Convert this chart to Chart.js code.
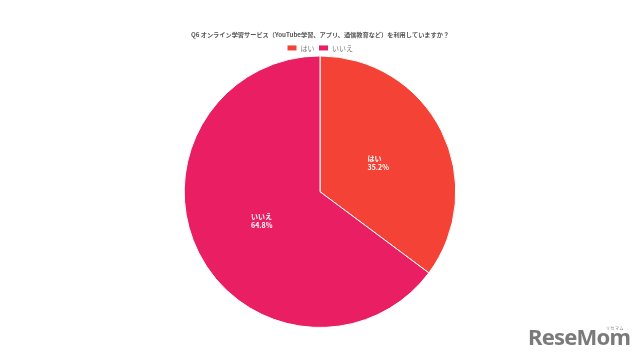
<!DOCTYPE html>
<html>
<head>
<meta charset="utf-8">
<script src="https://cdn.jsdelivr.net/npm/chart.js@4"></script>
<style>
  html, body { margin: 0; padding: 0; background: #fff; }
  #wrap { position: relative; width: 640px; height: 360px; }
  #logo { position: absolute; left: 528px; top: 325px; font-family: "Noto Sans", sans-serif; font-weight: bold; font-size: 22px; color: #7a7a7a; letter-spacing: -0.8px; line-height: 22px; }
  #logo small { position: absolute; left: 78px; top: 1px; font-size: 4px; font-family: "Noto Sans CJK JP"; font-weight: normal; letter-spacing: 0.5px; line-height: 5px; }
</style>
</head>
<body>
<div id="wrap">
  <canvas id="myPie" width="640" height="360"></canvas>
  <div id="logo"><small>リセマム</small>ReseMom</div>
</div>
<script>
const titleText = "Q6 オンライン学習サービス（YouTube学習、アプリ、通信教育など）を利用していますか？";
const labels = ["はい", "いいえ"];
const values = [35.2, 64.8];
const colors = ["#F44336", "#E91E63"];

const fontFamily = '"Noto Sans CJK JP", "Noto Sans", sans-serif';

// 凡例の高さを詰める
const tightLegend = {
  id: "tightLegend",
  beforeInit(chart) {
    const origFit = chart.legend.fit;
    chart.legend.fit = function () {
      origFit.bind(chart.legend)();
      this.height -= 6;
    };
  }
};

// 扇形の中に「ラベル + %」を描く
const sliceLabels = {
  id: "sliceLabels",
  afterDatasetsDraw(chart) {
    const ctx = chart.ctx;
    const meta = chart.getDatasetMeta(0);
    ctx.save();
    ctx.font = "bold 7px " + fontFamily;
    ctx.fillStyle = "#fff";
    ctx.textBaseline = "middle";
    ctx.textAlign = "left";
    meta.data.forEach((arc, i) => {
      const p = arc.getProps(["x", "y", "startAngle", "endAngle", "outerRadius"], true);
      const mid = (p.startAngle + p.endAngle) / 2;
      const r = p.outerRadius * 0.48;
      const cx = p.x + Math.cos(mid) * r;
      const cy = p.y + Math.sin(mid) * r;
      const lines = [labels[i], values[i].toFixed(1) + "%"];
      const w = Math.max(...lines.map(l => ctx.measureText(l).width));
      lines.forEach((l, j) => {
        ctx.fillText(l, cx - w / 2, cy + (j - 0.5) * 9);
      });
    });
    ctx.restore();
  }
};

const myPie = new Chart(document.getElementById("myPie"), {
  type: "pie",
  data: {
    labels: labels,
    datasets: [{
      data: values,
      backgroundColor: colors,
      borderColor: "#fff",
      borderWidth: 1
    }]
  },
  options: {
    responsive: false,
    animation: false,
    layout: { padding: { top: 27, bottom: 32 } },
    plugins: {
      title: {
        display: true,
        text: titleText,
        color: "#555",
        font: { family: fontFamily, size: 6.2, weight: "bold" },
        padding: { top: 4, bottom: 2 }
      },
      legend: {
        position: "top",
        labels: {
          boxWidth: 10,
          boxHeight: 6,
          padding: 4,
          color: "#777",
          font: { family: fontFamily, size: 7 }
        }
      },
      tooltip: { enabled: false }
    }
  },
  plugins: [tightLegend, sliceLabels]
});
</script>
</body>
</html>
